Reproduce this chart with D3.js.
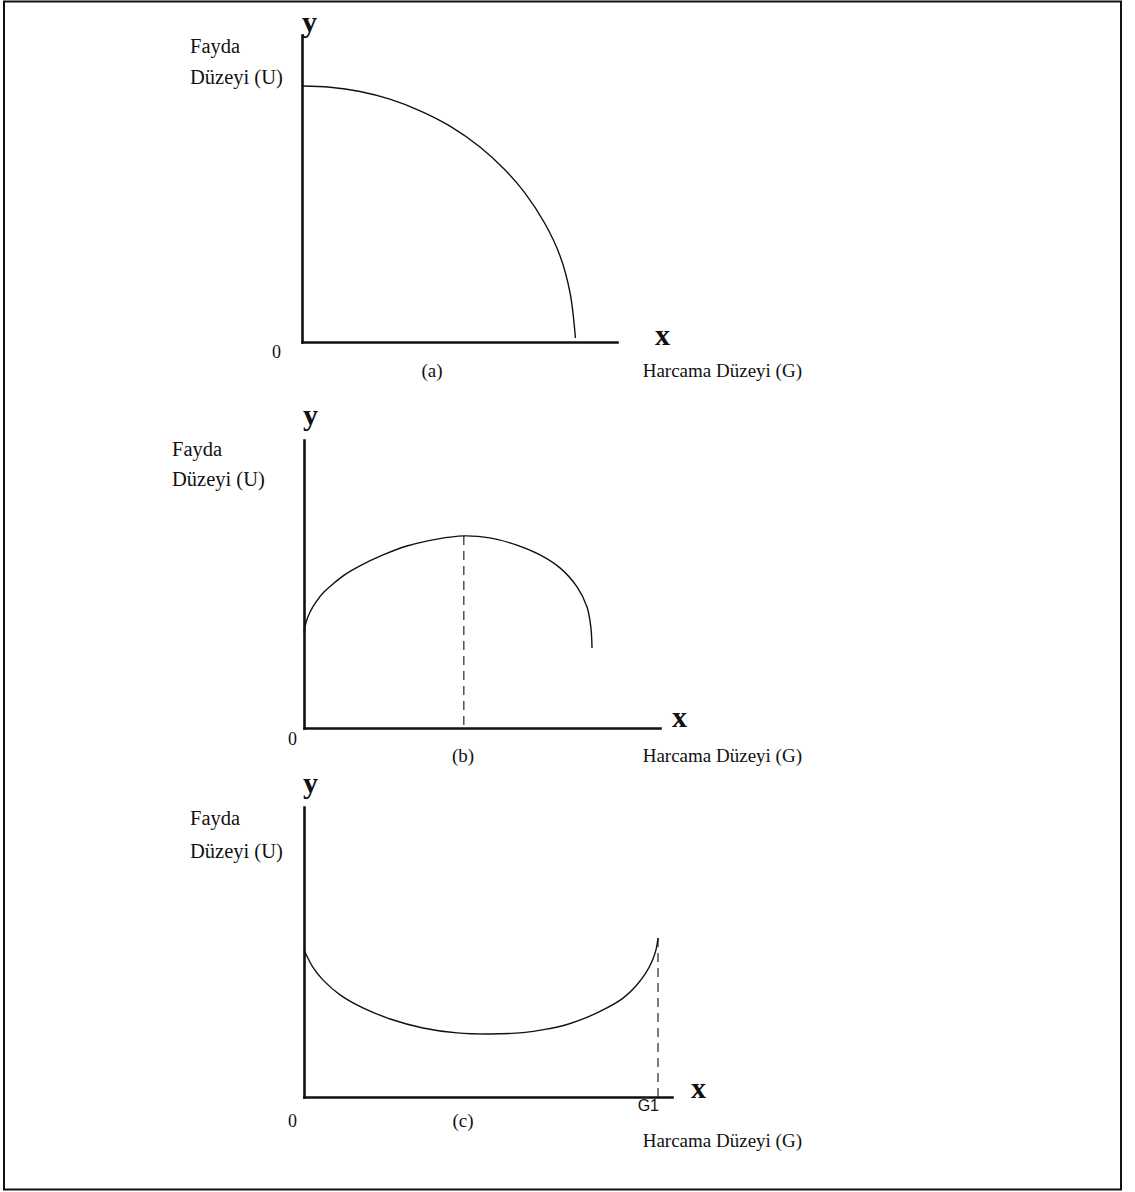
<!DOCTYPE html>
<html>
<head>
<meta charset="utf-8">
<script src="https://cdn.jsdelivr.net/npm/d3@7/dist/d3.min.js"></script>
<style>
  html, body { margin: 0; padding: 0; background: #fff; }
  svg { display: block; }
  .serif { font-family: "Liberation Serif", "Times New Roman", serif; fill: #111; }
  .sans { font-family: "Liberation Sans", Arial, sans-serif; fill: #111; }
  .axis path { stroke: #111; stroke-width: 2.6; stroke-linecap: square; }
</style>
</head>
<body>
<script>
// Utility (U) against spending level (G), three panel shapes.
// Panel (a): concave, falling to zero
const panelA_G = [0, 8.9, 18.4, 27.9, 37.5, 47.0, 56.5, 64.4, 70.8, 77.1, 81.9, 85.1, 86.8];
const panelA_U = [83.4, 83.0, 81.6, 79.1, 75.3, 70.3, 63.5, 56.1, 48.5, 38.6, 28.1, 16.0, 1.3];

// Panel (b): rises to a peak, then falls
const panelB_G = [0, 0.6, 1.7, 3.4, 5.6, 8.4, 11.8, 15.7, 22.2, 28.9, 37.4, 44.9, 52.2, 59.8, 66.3, 71.9, 76.7, 79.5, 80.6, 80.9];
const panelB_U = [33.0, 36.8, 40.3, 43.8, 47.2, 50.3, 53.5, 56.3, 60.1, 63.2, 65.6, 66.7, 66.0, 63.5, 60.1, 55.6, 49.0, 42.0, 34.7, 27.8];
const panelB_peak = [44.9, 66.7];

// Panel (c): falls to a trough, then rises up to G1
const panelC_G = [0, 2.4, 5.2, 9.8, 16.0, 23.4, 32.3, 41.6, 50.5, 59.5, 65.5, 71.5, 77.2, 82.3, 86.7, 90.2, 92.9, 94.6, 95.7, 96.2];
const panelC_U = [50.7, 44.8, 40.3, 35.2, 30.7, 26.9, 23.8, 22.1, 21.7, 22.2, 23.3, 25.0, 27.6, 30.7, 34.1, 38.3, 42.8, 46.9, 51.0, 54.8];
const panelC_G1 = [96.2, 54.8];

// Text
const yLabel = ["Fayda", "Düzeyi (U)"];
const xLabel = "Harcama Düzeyi (G)";
const panelTags = ["(a)", "(b)", "(c)"];

const W = 1135, H = 1192;
const svg = d3.select("body").append("svg").attr("width", W).attr("height", H);

// Outer frame
svg.append("rect")
  .attr("x", 4).attr("y", 1.5).attr("width", 1117).attr("height", 1188)
  .attr("fill", "none").attr("stroke", "#111").attr("stroke-width", 2);

const panels = [
  { G: panelA_G, U: panelA_U, xr: [302, 617], yr: [342, 35], tag: panelTags[0],
    yGlyph: [302, 32], lab: [[190, 53], [190, 84]], zero: [272, 358],
    xGlyph: [655, 345], tagPos: [432, 377], xLab: 377 },
  { G: panelB_G, U: panelB_U, xr: [304, 660], yr: [728, 440], tag: panelTags[1],
    yGlyph: [303, 425], lab: [[172, 456], [172, 486]], zero: [288, 745],
    xGlyph: [672, 727], tagPos: [463, 762], xLab: 762, peak: panelB_peak },
  { G: panelC_G, U: panelC_U, xr: [304, 672], yr: [1097, 807], tag: panelTags[2],
    yGlyph: [303, 793], lab: [[190, 825], [190, 858]], zero: [288, 1127],
    xGlyph: [691, 1098], tagPos: [463, 1127], xLab: 1147, g1: panelC_G1 }
];

panels.forEach(p => {
  const x = d3.scaleLinear().domain([0, 100]).range(p.xr);
  const y = d3.scaleLinear().domain([0, 100]).range(p.yr);
  const g = svg.append("g");

  // Axes (domain lines only)
  g.append("g").attr("class", "axis")
    .attr("transform", `translate(0,${y(0)})`)
    .call(d3.axisBottom(x).tickValues([]).tickSizeOuter(0));
  g.append("g").attr("class", "axis")
    .attr("transform", `translate(${x(0)},0)`)
    .call(d3.axisLeft(y).tickValues([]).tickSizeOuter(0));

  // Curve
  const pts = p.G.map((v, i) => [v, p.U[i]]);
  g.append("path")
    .datum(pts)
    .attr("fill", "none").attr("stroke", "#111").attr("stroke-width", 1.4)
    .attr("d", d3.line().x(d => x(d[0])).y(d => y(d[1])).curve(d3.curveCatmullRom.alpha(0.5)));

  // Dashed guide lines
  const guide = p.peak || p.g1;
  if (guide) {
    g.append("line")
      .attr("x1", x(guide[0])).attr("x2", x(guide[0]))
      .attr("y1", y(guide[1])).attr("y2", y(0))
      .attr("stroke", "#111").attr("stroke-width", 1.1)
      .attr("stroke-dasharray", "9,6");
  }
  if (p.g1) {
    g.append("text").attr("class", "sans")
      .attr("x", x(p.g1[0]) + 1).attr("y", y(0) + 14)
      .attr("text-anchor", "end").attr("font-size", 16)
      .text("G1");
  }

  // Labels
  g.append("text").attr("class", "serif")
    .attr("x", p.yGlyph[0]).attr("y", p.yGlyph[1])
    .attr("font-size", 30).attr("font-weight", "bold").text("y");
  g.append("text").attr("class", "serif")
    .attr("x", p.xGlyph[0]).attr("y", p.xGlyph[1])
    .attr("font-size", 30).attr("font-weight", "bold").text("x");
  yLabel.forEach((t, i) => {
    g.append("text").attr("class", "serif")
      .attr("x", p.lab[i][0]).attr("y", p.lab[i][1])
      .attr("font-size", 20.5).text(t);
  });
  g.append("text").attr("class", "serif")
    .attr("x", p.zero[0]).attr("y", p.zero[1])
    .attr("font-size", 18).text("0");
  g.append("text").attr("class", "serif")
    .attr("x", p.tagPos[0]).attr("y", p.tagPos[1])
    .attr("text-anchor", "middle").attr("font-size", 19).text(p.tag);
  g.append("text").attr("class", "serif")
    .attr("x", 802).attr("y", p.xLab)
    .attr("text-anchor", "end").attr("font-size", 19).text(xLabel);
});
</script>
</body>
</html>
